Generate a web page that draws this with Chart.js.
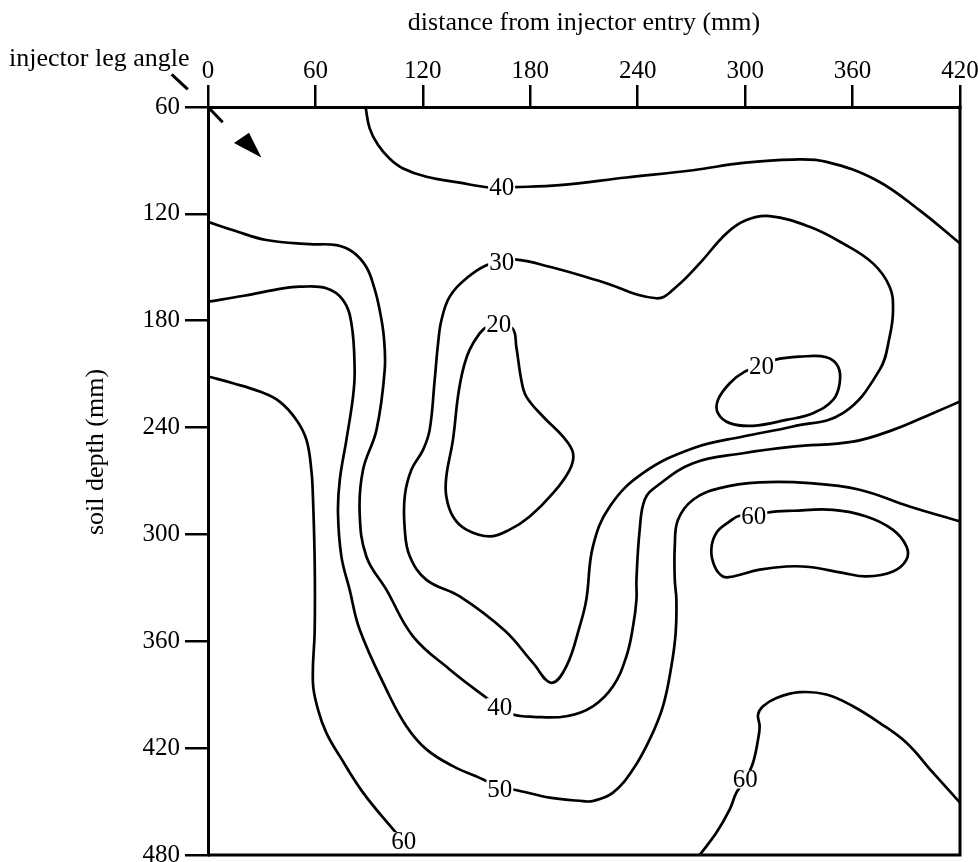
<!DOCTYPE html>
<html>
<head>
<meta charset="utf-8">
<title>Soil depth contours</title>
<script src="https://cdn.jsdelivr.net/npm/chart.js@4.4.0/dist/chart.umd.min.js"></script>
<style>
  html, body { margin: 0; padding: 0; background: #fff; }
  #wrap { width: 978px; height: 862px; }
</style>
</head>
<body>
<div id="wrap"><canvas id="contourChart" width="978" height="862"></canvas></div>
<script>
// contour lines, points are [distance from entry (mm), soil depth (mm)]
const xTicks = [0, 60, 120, 180, 240, 300, 360, 420];
const yTicks = [60, 120, 180, 240, 300, 360, 420, 480];

const upper40 = [[88,60],[90.3,72],[95,81.4],[101.5,89],[109,94.5],[122,99.2],[140.6,102.5],[157,105.2],[164,105],[171,105],
  [196.4,103.9],[233.7,99.6],[270.9,95.5],[298.8,91.4],[326.7,89.5],[345.4,90.8],[373.3,101.1],[397.3,117.9],[420,136.6]];

const lower40 = [[0,124.5],[15,129.5],[32.6,134.7],[56.8,137],[71.7,137.6],[81,141.5],[88.5,150],[93,162],[95.9,174.1],
  [98.2,189],[98.7,207.6],[94.1,241.3],[86.6,263.7],[84.7,287.8],[88.5,312.5],[99.6,331],[114.5,357.2],[135,375.8],
  [155.5,391.7],[163,397],[170.3,401.1],[181.5,402.4],[200.2,402.1],[215,396.5],[226.2,385.3],[233.7,368.4],[237.4,351.6],
  [239.3,336.6],[239.3,325.4],[241.1,297.4],[243.9,280.5],[250.4,273.1],[270.9,260],[298.8,254.4],[326.7,250.7],
  [360.2,247.9],[382.6,241.3],[404.9,231.9],[420,225.4]];

const contour50 = [[0,169.3],[20,166],[41.9,161.8],[51.2,160.9],[66.1,161.8],[75.4,168.4],[80.1,181.5],[81.9,207.6],
  [81,222.6],[77.3,246.9],[73.6,269.4],[72.6,288],[74.5,312.3],[79.1,331],[84.7,353.4],[99.6,387],
  [110.8,407.7],[122,420.7],[136.8,430.1],[155.5,438.5],[163,443],[170.3,443.2],[190.8,447.8],[209.4,449.7],[215,449.7],
  [226.2,445],[237.4,431.9],[246.7,415.1],[254.1,396.5],[258.8,374],[261.2,355.3],[261.6,336.6],[260.7,325.4],
  [260.7,306.7],[262.5,291.8],[270.9,280.5],[285.8,274],[308.1,270.8],[336,271.2],[363.9,274.9],[391.8,284.3],[420,292.7]];

const left60 = [[0,211.3],[14,215.1],[28.9,219.8],[40,225.4],[49.4,235.7],[55,246.9],[57.7,263.7],[58.6,278.7],[59.6,316],
  [59.6,353.4],[58.6,383.3],[61.4,398.2],[66.1,411.4],[73.6,424.5],[86.6,445],[103.3,465.5],[109.3,472.3]];

const right60 = [[274.6,480],[284,467.4],[291.4,454.4],[295.1,445],[300.1,437.6],[304.4,428.2],[307.2,415.2],[308.1,407.7],
  [307.2,401.2],[310,396.5],[317.5,391.8],[330.5,388.6],[345.4,389.9],[360.2,396.5],[375.1,405.8],[390.1,417],
  [404.9,433.8],[420,450.6]];

// closed contours start and end under their label
const loop30 = [[164,147.3],[171.3,145.6],[190.8,149.7],[218.7,157.7],[250.4,167.4],[261.6,160.9],[274.6,147.8],[289.5,131],
  [300.7,123.5],[313.7,121.3],[336,127.3],[354.6,136.6],[371.4,147.8],[380.7,160.9],[382.6,174],[380.7,189],[375.1,207.6],
  [354.6,231.9],[326.7,239.4],[298.8,245],[270.9,251.6],[242.9,265.6],[224.4,284.3],[215,306.7],[211.3,336.6],
  [207.6,351.6],[200.2,374],[191.8,383.3],[181.5,372.1],[165.7,354],[140.6,334.8],[122,325.5],[112.7,312.3],
  [109.9,297.2],[109.9,278.5],[113.6,263.7],[120.1,252.5],[123.8,241.3],[126.6,213.3],[128.5,192.7],[130.4,179.6],
  [135,166.5],[144.3,156.2],[155.5,148.8],[164,147.3]];

const loop20a = [[162.4,182],[170.2,184.5],[172.2,194.6],[175,213.3],[177.8,222.6],[187.1,233.8],[198.3,245.1],[203.9,254.4],
  [202,263.7],[192.7,276.8],[179.7,289.9],[168.5,297.3],[157.3,301.1],[144.3,297.3],[136.8,289.9],[133.1,278.7],
  [133.1,267.5],[136.8,246.9],[139.6,222.6],[142.4,207.6],[146.1,196.4],[151.7,187.1],[155.6,183.5],[162.4,182]];

const loop20b = [[309.2,205.4],[316.5,202],[330.4,200.2],[345.4,200.5],[351.9,205.8],[352.8,215.1],[349.1,224.5],[337.9,231.9],
  [323,235.7],[304.4,239],[291.4,237.5],[284.8,231.9],[284.8,224.5],[291.4,215.1],[299.8,208.6],[309.2,205.4]];

const loop60 = [[304.8,289.9],[312.8,287.7],[326.7,286.7],[349.1,286.2],[367.7,289.9],[382.6,297.4],[390.1,306.7],[390.1,314.2],
  [382.6,320.8],[367.7,323.6],[354.6,321.6],[336,318.3],[323,318],[308.1,319.8],[293.2,323.6],[287.6,323.6],[283,318],
  [281.1,308.6],[283.9,299.2],[291.4,292.7],[296.9,289.5],[304.8,289.9]];

const contourLabels = [
  { text: '40', x: 164, y: 105 },
  { text: '30', x: 164, y: 147.3 },
  { text: '20', x: 162.4, y: 182 },
  { text: '20', x: 309.2, y: 205.4 },
  { text: '60', x: 304.8, y: 289.9 },
  { text: '40', x: 163, y: 397 },
  { text: '50', x: 163, y: 443 },
  { text: '60', x: 300.1, y: 437.6 },
  { text: '60', x: 109.3, y: 472.3 }
];

// injector leg marker near the corner, in axis units
const legLine = [[-20.3,41.7],[-11.3,50.1]];
const legStub = [[0,60],[8.2,68.6]];
const legArrow = [[14.5,80.2],[22.9,74.4],[29.8,88.4]];

const serif = '"Liberation Serif", "Times New Roman", serif';
const toPoints = arr => arr.map(p => ({ x: p[0], y: p[1] }));

const contourLabelPlugin = {
  id: 'contourLabels',
  afterDatasetsDraw(chart) {
    const { ctx, scales: { x, y } } = chart;
    ctx.save();
    ctx.font = '25px ' + serif;
    ctx.textAlign = 'center';
    ctx.textBaseline = 'middle';
    contourLabels.forEach(l => {
      const px = x.getPixelForValue(l.x);
      const py = y.getPixelForValue(l.y);
      const w = ctx.measureText(l.text).width + 2;
      ctx.fillStyle = '#fff';
      ctx.fillRect(px - w / 2, py - 9, w, 18);
      ctx.fillStyle = '#000';
      ctx.fillText(l.text, px, py + 1);
    });
    ctx.restore();
  }
};

const framePlugin = {
  id: 'frame',
  afterDraw(chart) {
    const { ctx, chartArea: a, scales: { x, y } } = chart;
    const px = p => [x.getPixelForValue(p[0]), y.getPixelForValue(p[1])];
    ctx.save();
    ctx.strokeStyle = '#000';
    ctx.fillStyle = '#000';
    ctx.lineWidth = 3;
    ctx.beginPath();
    ctx.moveTo(a.right, a.top - 1.5);
    ctx.lineTo(a.right, a.bottom);
    ctx.lineTo(a.left, a.bottom);
    ctx.stroke();

    // leg angle marker
    [legLine, legStub].forEach(seg => {
      const p0 = px(seg[0]), p1 = px(seg[1]);
      ctx.beginPath();
      ctx.moveTo(p0[0], p0[1]);
      ctx.lineTo(p1[0], p1[1]);
      ctx.stroke();
    });
    ctx.beginPath();
    legArrow.forEach((p, i) => {
      const q = px(p);
      if (i === 0) ctx.moveTo(q[0], q[1]); else ctx.lineTo(q[0], q[1]);
    });
    ctx.closePath();
    ctx.fill();

    ctx.font = '26px ' + serif;
    ctx.textAlign = 'left';
    ctx.textBaseline = 'alphabetic';
    ctx.fillText('injector leg angle', 9, 66);

    ctx.translate(96, 452);
    ctx.rotate(-Math.PI / 2);
    ctx.textAlign = 'center';
    ctx.textBaseline = 'middle';
    ctx.fillText('soil depth (mm)', 0, 0);
    ctx.restore();
  }
};

const lineStyle = { borderColor: '#000', borderWidth: 2.7, pointRadius: 0, showLine: true, tension: 0.4, fill: false };
const series = [upper40, lower40, contour50, left60, right60, loop30, loop20a, loop20b, loop60];

new Chart(document.getElementById('contourChart'), {
  type: 'scatter',
  data: {
    datasets: series.map(s => Object.assign({ data: toPoints(s) }, lineStyle))
  },
  options: {
    responsive: false,
    animation: false,
    layout: { padding: { left: 0, top: 0, right: 18, bottom: 7 } },
    plugins: { legend: { display: false }, tooltip: { enabled: false } },
    scales: {
      x: {
        type: 'linear',
        position: 'top',
        min: 0,
        max: 420,
        afterBuildTicks: s => { s.ticks = xTicks.map(v => ({ value: v })); },
        afterFit: s => { s.height = 107; s.paddingLeft = 0; s.paddingRight = 0; },
        ticks: { color: '#000', font: { family: serif, size: 25 }, padding: -1, maxRotation: 0 },
        grid: { drawOnChartArea: false, drawTicks: true, tickLength: 22, color: '#000', lineWidth: 2.5 },
        border: { display: true, color: '#000', width: 3 },
        title: {
          display: true,
          text: 'distance from injector entry (mm)',
          color: '#000',
          font: { family: serif, size: 26 },
          padding: { top: 8, bottom: 0 }
        }
      },
      y: {
        type: 'linear',
        reverse: true,
        min: 60,
        max: 480,
        afterBuildTicks: s => { s.ticks = yTicks.map(v => ({ value: v })); },
        afterFit: s => { s.width = 208; s.paddingTop = 0; s.paddingBottom = 0; },
        ticks: { color: '#000', font: { family: serif, size: 25 }, padding: 5 },
        grid: { drawOnChartArea: false, drawTicks: true, tickLength: 23, color: '#000', lineWidth: 2.5 },
        border: { display: true, color: '#000', width: 3 }
      }
    }
  },
  plugins: [contourLabelPlugin, framePlugin]
});
</script>
</body>
</html>
